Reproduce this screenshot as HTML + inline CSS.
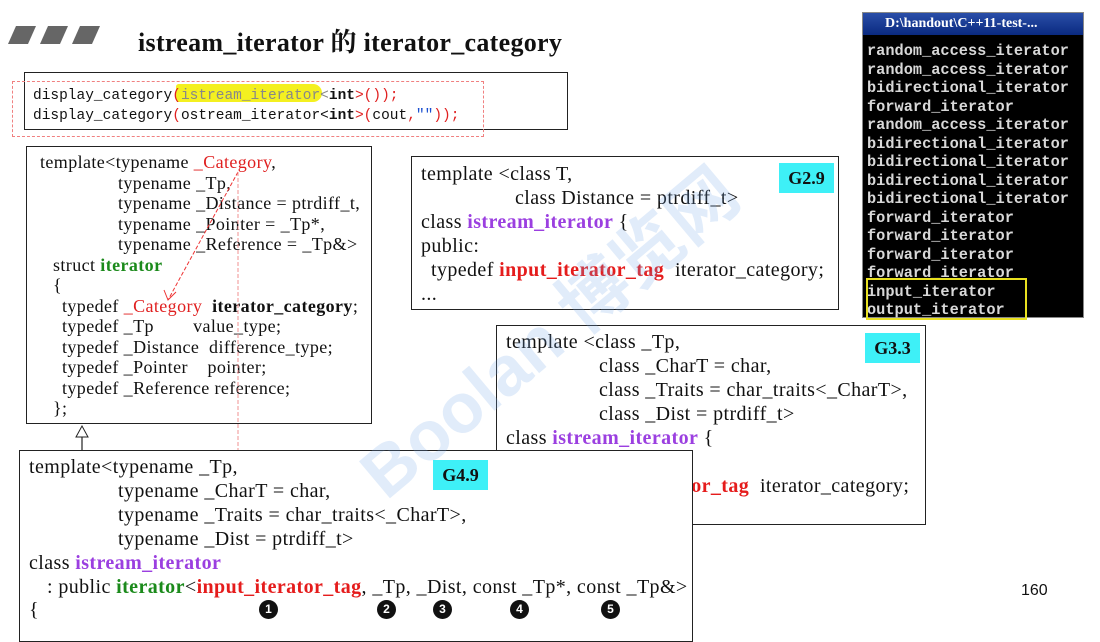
<!DOCTYPE html>
<html><head><meta charset="utf-8"><style>
body{margin:0;width:1100px;height:642px;background:#fff;position:relative;overflow:hidden;font-family:"Liberation Serif","Noto Serif CJK SC",serif;color:#111}
.a{position:absolute}
.box{position:absolute;border:1.5px solid #222;background:#fff;box-sizing:border-box}
.s{position:absolute;white-space:pre;font-size:18px;letter-spacing:0.4px;line-height:20px}
.m{position:absolute;white-space:pre;font-size:20px;letter-spacing:0.4px;line-height:24px}
.r{color:#e02020}.g{color:#1b8a1b;font-weight:bold}.p{color:#9b3fe0;font-weight:bold}.rb{color:#e51c1c;font-weight:bold}
.tag{position:absolute;background:#3ef0f7;font-weight:bold;font-size:18px;text-align:center}
.con{position:absolute;font-family:"Liberation Mono",monospace;font-weight:bold;font-size:15.3px;color:#d8d8d8;white-space:pre;line-height:18.5px}
.c{position:absolute;width:19px;height:19px;border-radius:50%;background:#111;color:#fff;font:bold 12px "Liberation Sans",sans-serif;text-align:center;line-height:19px}
</style></head><body>
<svg class="a" style="left:0;top:24px" width="115" height="24"><polygon points="8,20 16,2 36,2 28,20" fill="#666"/><polygon points="40,20 48,2 68,2 60,20" fill="#666"/><polygon points="72,20 80,2 100,2 92,20" fill="#666"/></svg>
<div class="a" style="left:138px;top:22px;font-size:26px;font-weight:bold;letter-spacing:0.3px">istream_iterator 的 iterator_category</div>

<div class="box" style="left:24px;top:72px;width:544px;height:58px;border-width:1px"></div>
<div class="a" style="left:12px;top:81px;width:470px;height:54px;border:1px dashed #f08080"></div>
<div class="a" style="left:176px;top:84px;width:146px;height:18px;background:#f4f020;border-radius:3px 10px 10px 3px"></div>
<div class="a" style="left:33px;top:86px;font-family:'Liberation Mono',monospace;font-size:14.5px;line-height:20px;white-space:pre">display_category<span class="r">(</span><span style="color:#888">istream_iterator&lt;</span><b>int</b><span class="r">&gt;());</span>
display_category<span class="r">(</span>ostream_iterator&lt;<b>int</b><span class="r">&gt;(</span>cout<span class="r">,</span><span style="color:#1a4fd0">""</span><span class="r">));</span></div>

<div class="box" style="left:26px;top:146px;width:346px;height:278px"></div>
<div>
<div class="s" style="left:40px;top:152px">template&lt;typename <span class="r">_Category</span>,</div>
<div class="s" style="left:118px;top:172.5px">typename _Tp,</div>
<div class="s" style="left:118px;top:193px">typename _Distance = ptrdiff_t,</div>
<div class="s" style="left:118px;top:213.5px">typename _Pointer = _Tp*,</div>
<div class="s" style="left:118px;top:234px">typename _Reference = _Tp&amp;&gt;</div>
<div class="s" style="left:53px;top:254.5px">struct <span class="g">iterator</span></div>
<div class="s" style="left:53px;top:275px">{</div>
<div class="s" style="left:62px;top:295.5px">typedef <span class="r">_Category</span>  <b>iterator_category</b>;</div>
<div class="s" style="left:62px;top:316px">typedef _Tp        value_type;</div>
<div class="s" style="left:62px;top:336.5px">typedef _Distance  difference_type;</div>
<div class="s" style="left:62px;top:357px">typedef _Pointer    pointer;</div>
<div class="s" style="left:62px;top:377.5px">typedef _Reference reference;</div>
<div class="s" style="left:53px;top:398px">};</div>
</div>
<svg class="a" style="left:0;top:0" width="1100" height="642">
<path d="M238,172 L168,300" stroke="#e33" stroke-width="1" stroke-dasharray="4,2" fill="none"/>
<path d="M164,290 L168,300 L176,292" stroke="#e33" fill="none"/>
<path d="M238,172 L238,600" stroke="#f29090" stroke-width="1" stroke-dasharray="4,2" fill="none"/>
<path d="M82,432 L82,450" stroke="#222" stroke-width="1.2"/>
<polygon points="76,437 82,426 88,437" fill="#fff" stroke="#222"/>
</svg>

<div class="box" style="left:411px;top:156px;width:428px;height:154px"></div>
<div class="tag" style="left:779px;top:163px;width:55px;height:30px;line-height:30px">G2.9</div>
<div>
<div class="m" style="left:421px;top:162px">template &lt;class T,</div>
<div class="m" style="left:515px;top:186px">class Distance = ptrdiff_t&gt;</div>
<div class="m" style="left:421px;top:210px">class <span class="p">istream_iterator</span> {</div>
<div class="m" style="left:421px;top:234px">public:</div>
<div class="m" style="left:431px;top:258px">typedef <span class="rb">input_iterator_tag</span>  iterator_category;</div>
<div class="m" style="left:421px;top:282px">...</div>
</div>

<div class="box" style="left:496px;top:325px;width:430px;height:200px"></div>
<div class="tag" style="left:865px;top:333px;width:55px;height:30px;line-height:30px">G3.3</div>
<div>
<div class="m" style="left:506px;top:330px">template &lt;class _Tp,</div>
<div class="m" style="left:599px;top:354px">class _CharT = char,</div>
<div class="m" style="left:599px;top:378px">class _Traits = char_traits&lt;_CharT&gt;,</div>
<div class="m" style="left:599px;top:402px">class _Dist = ptrdiff_t&gt;</div>
<div class="m" style="left:506px;top:426px">class <span class="p">istream_iterator</span> {</div>
<div class="m" style="left:506px;top:450px">public:</div>
<div class="m" style="left:516px;top:474px">typedef <span class="rb">input_iterator_tag</span>  iterator_category;</div>
<div class="m" style="left:506px;top:498px">...</div>
</div>

<div class="box" style="left:19px;top:450px;width:674px;height:192px"></div>
<div class="tag" style="left:433px;top:460px;width:55px;height:30px;line-height:30px">G4.9</div>
<div>
<div class="m" style="left:29px;top:455px">template&lt;typename _Tp,</div>
<div class="m" style="left:118px;top:479px">typename _CharT = char,</div>
<div class="m" style="left:118px;top:503px">typename _Traits = char_traits&lt;_CharT&gt;,</div>
<div class="m" style="left:118px;top:527px">typename _Dist = ptrdiff_t&gt;</div>
<div class="m" style="left:29px;top:551px">class <span class="p">istream_iterator</span></div>
<div class="m" style="left:47px;top:575px">: public <span class="g">iterator</span>&lt;<span class="rb">input_iterator_tag</span>, _Tp, _Dist, const _Tp*, const _Tp&amp;&gt;</div>
<div class="m" style="left:29px;top:598px">{</div>
</div>
<div class="c" style="left:259px;top:600px">1</div>
<div class="c" style="left:377px;top:600px">2</div>
<div class="c" style="left:433px;top:600px">3</div>
<div class="c" style="left:510px;top:600px">4</div>
<div class="c" style="left:601px;top:600px">5</div>

<div class="a" style="left:862px;top:12px;width:222px;height:306px;background:#000;border:1px solid #888;box-sizing:border-box">
<div class="a" style="left:0;top:0;width:220px;height:22px;background:linear-gradient(#2a4ea8,#0a2a80);color:#fff;font:bold 14px 'Liberation Serif',serif;line-height:22px;padding-left:22px;box-sizing:border-box;white-space:nowrap;overflow:hidden">D:\handout\C++11-test-...</div>
<div class="con" style="left:4px;top:29px">random_access_iterator
random_access_iterator
bidirectional_iterator
forward_iterator
random_access_iterator
bidirectional_iterator
bidirectional_iterator
bidirectional_iterator
bidirectional_iterator
forward_iterator
forward_iterator
forward_iterator
forward_iterator
input_iterator
output_iterator</div>
<div class="a" style="left:3px;top:265px;width:157px;height:38px;border:2px solid #e8e020"></div>
</div>

<div class="a" style="left:335px;top:440px;transform:rotate(-40deg);transform-origin:left top;font:bold 70px 'Liberation Sans','Noto Sans CJK SC',sans-serif;color:rgba(120,170,230,0.22);white-space:nowrap">Boolan 博览网</div>
<div class="a" style="left:1021px;top:582px;font:16px 'Liberation Sans',sans-serif">160</div>
</body></html>
